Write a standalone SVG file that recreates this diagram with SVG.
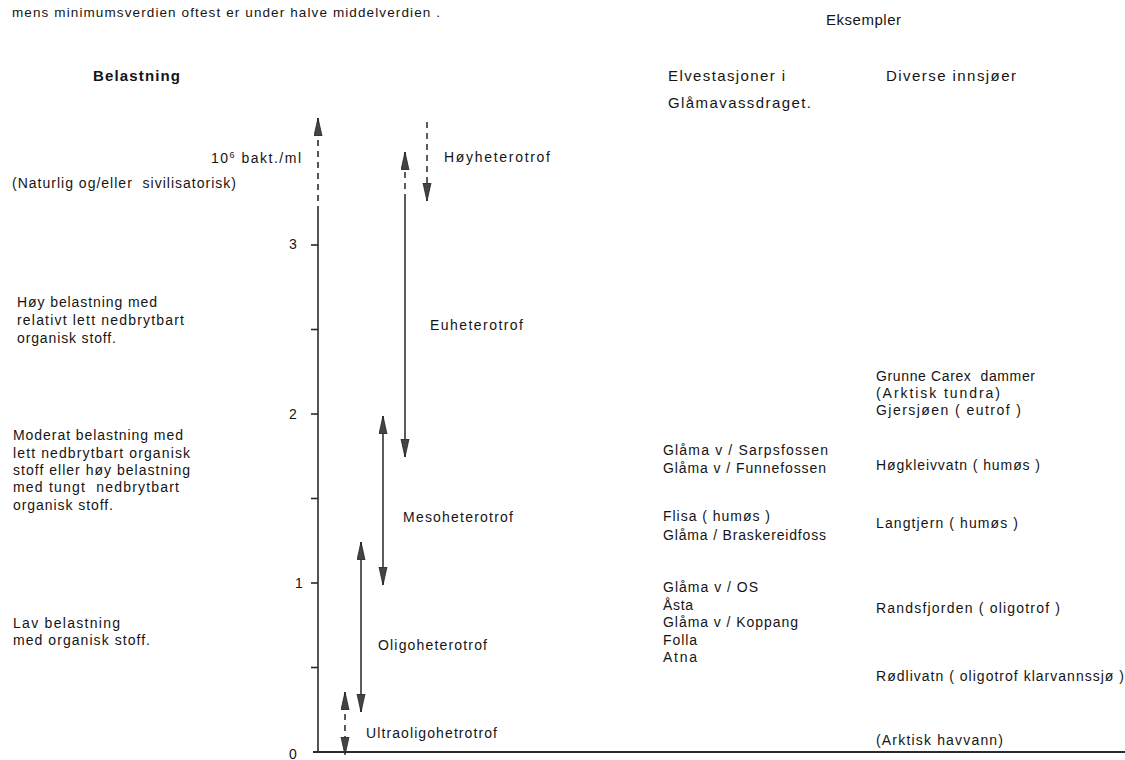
<svg xmlns="http://www.w3.org/2000/svg" width="1125" height="760" viewBox="0 0 1125 760">
<style>
text{font-family:"Liberation Sans",Arial,sans-serif;font-size:14px;fill:#151515;white-space:pre}
.s{font-size:13.5px}
.h{font-size:15px}
.b{font-size:15px;font-weight:bold}
.ax{stroke:#2a2a2a;stroke-width:1.6;fill:none}
.ln{stroke:#333;stroke-width:1.6;fill:none}
.ds{stroke-dasharray:6 5}
</style>
<defs>
<marker id="ah" markerUnits="userSpaceOnUse" markerWidth="20" markerHeight="10" refX="18" refY="4.5" orient="auto-start-reverse" viewBox="0 0 20 10">
<path d="M0,0.5 L18,4.5 L0,8.5 z" fill="#444" stroke="#222" stroke-width="0.8"/>
</marker>
</defs>

<g id="header">
<text class="s" x="12" y="17" textLength="428" lengthAdjust="spacing">mens minimumsverdien oftest er under halve middelverdien .</text>
<text class="h" x="826" y="25" textLength="75" lengthAdjust="spacing">Eksempler</text>
<text class="b" x="93" y="81" textLength="87" lengthAdjust="spacing">Belastning</text>
<text class="h" x="668" y="81" textLength="117" lengthAdjust="spacing">Elvestasjoner i</text>
<text class="h" x="668" y="108" textLength="143" lengthAdjust="spacing">Glåmavassdraget.</text>
<text class="h" x="886" y="81" textLength="130" lengthAdjust="spacing">Diverse innsjøer</text>
</g>

<g id="axis">
<line class="ax ds" x1="318" y1="212" x2="318" y2="118" marker-end="url(#ah)"/>
<line class="ax" x1="318" y1="212" x2="318" y2="752"/>
<line x1="313" y1="752" x2="1125" y2="752" stroke="#2a2a2a" stroke-width="2"/>
<g class="ax">
<line x1="311" y1="245" x2="318" y2="245"/>
<line x1="311" y1="329.5" x2="318" y2="329.5"/>
<line x1="311" y1="414" x2="318" y2="414"/>
<line x1="311" y1="498.5" x2="318" y2="498.5"/>
<line x1="311" y1="583" x2="318" y2="583"/>
<line x1="311" y1="667.5" x2="318" y2="667.5"/>
</g>
<text x="211" y="163" textLength="90" lengthAdjust="spacing">10<tspan dy="-5" font-size="9">6</tspan><tspan dy="5"> bakt./ml</tspan></text>
<text x="289" y="249">3</text>
<text x="289" y="419">2</text>
<text x="295" y="588">1</text>
<text x="289" y="759" font-size="12">0</text>
</g>

<g id="left-labels">
<text x="12" y="188" textLength="224" lengthAdjust="spacing">(Naturlig og/eller  sivilisatorisk)</text>
<text x="17" y="307" textLength="140" lengthAdjust="spacing">Høy belastning med</text>
<text x="17" y="325" textLength="167" lengthAdjust="spacing">relativt lett nedbrytbart</text>
<text x="17" y="343" textLength="99" lengthAdjust="spacing">organisk stoff.</text>
<text x="13" y="440" textLength="170" lengthAdjust="spacing">Moderat belastning med</text>
<text x="13" y="458" textLength="177" lengthAdjust="spacing">lett nedbrytbart organisk</text>
<text x="13" y="475" textLength="177" lengthAdjust="spacing">stoff eller høy belastning</text>
<text x="13" y="492" textLength="166" lengthAdjust="spacing">med tungt  nedbrytbart</text>
<text x="13" y="510" textLength="100" lengthAdjust="spacing">organisk stoff.</text>
<text x="13" y="628" textLength="107" lengthAdjust="spacing">Lav belastning</text>
<text x="13" y="645" textLength="137" lengthAdjust="spacing">med organisk stoff.</text>
</g>

<g id="connectors">
<line class="ln ds" x1="427" y1="122" x2="427" y2="201" marker-end="url(#ah)"/>
<line class="ln ds" x1="405" y1="200" x2="405" y2="152" marker-end="url(#ah)"/>
<line class="ln" x1="405" y1="200" x2="405" y2="457" marker-end="url(#ah)"/>
<line class="ln" x1="383" y1="416" x2="383" y2="585" marker-start="url(#ah)" marker-end="url(#ah)"/>
<line class="ln" x1="361" y1="542" x2="361" y2="712" marker-start="url(#ah)" marker-end="url(#ah)"/>
<line class="ln ds" x1="345" y1="692" x2="345" y2="755" marker-start="url(#ah)" marker-end="url(#ah)"/>
</g>

<g id="classes">
<text x="444" y="162" textLength="106" lengthAdjust="spacing">Høyheterotrof</text>
<text x="430" y="330" textLength="93" lengthAdjust="spacing">Euheterotrof</text>
<text x="403" y="522" textLength="110" lengthAdjust="spacing">Mesoheterotrof</text>
<text x="378" y="650" textLength="109" lengthAdjust="spacing">Oligoheterotrof</text>
<text x="366" y="738" textLength="131" lengthAdjust="spacing">Ultraoligohetrotrof</text>
</g>

<g id="rivers">
<text x="663" y="455" textLength="165" lengthAdjust="spacing">Glåma v / Sarpsfossen</text>
<text x="663" y="473" textLength="163" lengthAdjust="spacing">Glåma v / Funnefossen</text>
<text x="663" y="521" textLength="107" lengthAdjust="spacing">Flisa ( humøs )</text>
<text x="663" y="540" textLength="163" lengthAdjust="spacing">Glåma / Braskereidfoss</text>
<text x="663" y="592" textLength="95" lengthAdjust="spacing">Glåma v / OS</text>
<text x="663" y="610" textLength="30" lengthAdjust="spacing">Åsta</text>
<text x="663" y="627" textLength="135" lengthAdjust="spacing">Glåma v / Koppang</text>
<text x="663" y="645" textLength="34" lengthAdjust="spacing">Folla</text>
<text x="663" y="662" textLength="34" lengthAdjust="spacing">Atna</text>
</g>

<g id="lakes">
<text x="876" y="381" textLength="159" lengthAdjust="spacing">Grunne Carex  dammer</text>
<text x="876" y="398" textLength="124" lengthAdjust="spacing">(Arktisk tundra)</text>
<text x="876" y="415" textLength="145" lengthAdjust="spacing">Gjersjøen ( eutrof )</text>
<text x="876" y="470" textLength="164" lengthAdjust="spacing">Høgkleivvatn ( humøs )</text>
<text x="876" y="528" textLength="142" lengthAdjust="spacing">Langtjern ( humøs )</text>
<text x="876" y="613" textLength="184" lengthAdjust="spacing">Randsfjorden ( oligotrof )</text>
<text x="876" y="681" textLength="248" lengthAdjust="spacing">Rødlivatn ( oligotrof klarvannssjø )</text>
<text x="876" y="745" textLength="127" lengthAdjust="spacing">(Arktisk havvann)</text>
</g>
</svg>
